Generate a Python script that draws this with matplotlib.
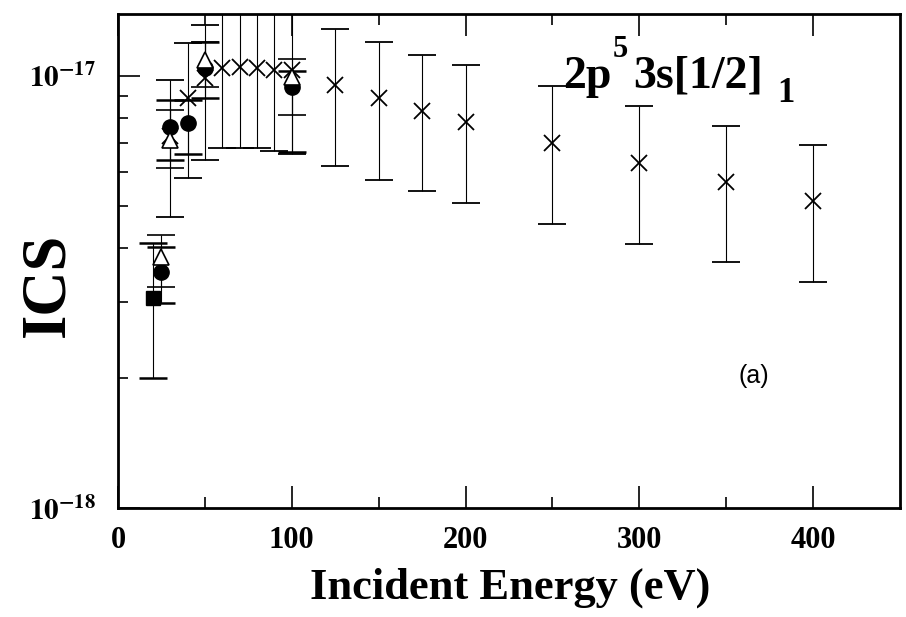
import matplotlib
matplotlib.use("Agg")
import matplotlib.pyplot as plt
from matplotlib.ticker import FixedLocator, NullFormatter

plt.rcParams['mathtext.fontset'] = 'stix'
plt.rcParams['font.family'] = ['Liberation Serif', 'DejaVu Serif']

# present measurement (crosses), integral cross sections in cm^2
energy_x = [30, 40, 50, 60, 70, 80, 90, 100, 125, 150, 175, 200, 250, 300, 350, 400]
ics_x = [7.26e-18, 8.9e-18, 9.9e-18, 1.04e-17, 1.05e-17, 1.04e-17, 1.03e-17, 1.03e-17,
         9.5e-18, 8.9e-18, 8.3e-18, 7.83e-18, 7.0e-18, 6.29e-18, 5.68e-18, 5.14e-18]
err_lo_x = [2.54e-18, 3.1e-18, 3.5e-18, 3.6e-18, 3.7e-18, 3.6e-18, 3.6e-18, 3.7e-18,
            3.3e-18, 3.15e-18, 2.9e-18, 2.75e-18, 2.46e-18, 2.21e-18, 1.97e-18, 1.8e-18]
err_hi_x = [2.54e-18, 3.0e-18, 3.2e-18, 3.6e-18, 3.7e-18, 3.6e-18, 3.6e-18, 3.6e-18,
            3.3e-18, 3.1e-18, 2.9e-18, 2.77e-18, 2.48e-18, 2.23e-18, 1.98e-18, 1.78e-18]

# low-energy point (filled square)
energy_sq = [20]
ics_sq = [3.06e-18]
err_lo_sq = [1.06e-18]
err_hi_sq = [1.04e-18]

# filled circles
energy_c = [25, 30, 40, 50, 100]
ics_c = [3.52e-18, 7.62e-18, 7.78e-18, 1.04e-17, 9.4e-18]
err_lo_c = [0.54e-18, 1.24e-18, 1.2e-18, 1.5e-18, 2.75e-18]
err_hi_c = [0.49e-18, 1.18e-18, 1.0e-18, 1.6e-18, 0.86e-18]

# open triangles
energy_t = [25, 30, 50, 100]
ics_t = [3.81e-18, 7.11e-18, 1.09e-17, 9.95e-18]
err_lo_t = [0.56e-18, 0.99e-18, 1.5e-18, 1.85e-18]
err_hi_t = [0.47e-18, 1.24e-18, 1.1e-18, 1.0e-18]

x_major = [0, 100, 200, 300, 400]
x_minor = [50, 150, 250, 350]
x_labels = ['0', '100', '200', '300', '400']
y_major = [1e-18, 1e-17]
y_minor = [2e-18, 3e-18, 4e-18, 5e-18, 6e-18, 7e-18, 8e-18, 9e-18]
y_labels = [r'$\mathbf{10^{-18}}$', r'$\mathbf{10^{-17}}$']

W, H = 906, 617
fig = plt.figure(figsize=(W / 100, H / 100), dpi=100)
ax = fig.add_axes([118 / W, 1 - 508 / H, (900 - 118) / W, (508 - 14) / H])
ax.set_yscale('log')
ax.set_xlim(0, 450)
ax.set_ylim(1e-18, 1.39e-17)

bar_kw = dict(color='k', ecolor='k', elinewidth=0.8, capsize=10, capthick=1.8)
ax.errorbar(energy_x, ics_x, yerr=[err_lo_x, err_hi_x], fmt='x', ms=12, mew=1.3,
            zorder=3, **bar_kw)
ax.errorbar(energy_sq, ics_sq, yerr=[err_lo_sq, err_hi_sq], fmt='s', ms=10,
            mfc='k', mec='k', zorder=4, **bar_kw)
ax.errorbar(energy_c, ics_c, yerr=[err_lo_c, err_hi_c], fmt='o', ms=11,
            mfc='k', mec='k', zorder=4, **bar_kw)
ax.errorbar(energy_t, ics_t, yerr=[err_lo_t, err_hi_t], fmt='^', ms=11,
            mfc='white', mec='k', mew=1.2, zorder=5, **bar_kw)

# axes frame and ticks
for s in ax.spines.values():
    s.set_linewidth(2.0)
ax.xaxis.set_major_locator(FixedLocator(x_major))
ax.xaxis.set_minor_locator(FixedLocator(x_minor))
ax.set_xticklabels(x_labels, fontsize=22, fontweight='bold')
ax.yaxis.set_major_locator(FixedLocator(y_major))
ax.yaxis.set_minor_locator(FixedLocator(y_minor))
ax.yaxis.set_minor_formatter(NullFormatter())
ax.set_yticklabels(y_labels, fontsize=21)
ax.tick_params(axis='x', which='major', direction='in', length=16, width=1.2,
               top=True, pad=13)
ax.tick_params(axis='x', which='minor', direction='in', length=8, width=1.2, top=True)
ax.tick_params(axis='y', which='major', direction='in', length=16, width=1.2,
               right=False, pad=16)
ax.tick_params(axis='y', which='minor', direction='in', length=7, width=1.2, right=False)

fig.text(510 / W, 1 - 588 / H, 'Incident Energy (eV)', fontsize=32,
         fontweight='bold', ha='center', va='center')
fig.text(48 / W, 1 - 285 / H, 'ICS', fontsize=45, fontweight='bold',
         rotation=90, ha='center', va='center')
fig.text(754 / W, 1 - 376 / H, '(a)', fontsize=18, family='Liberation Sans',
         ha='center', va='center')

# state label: 2p^5 3s[1/2]_1, built piece by piece
fig.canvas.draw()
renderer = fig.canvas.get_renderer()
base_y = 1 - 88 / H
x_cur = 563 / W
pieces = [('2p', 33, 0, 1), ('5', 22, 31, 6), ('3s[1/2]', 33, 0, 14), ('1', 25, -14, 0)]
for text, size, dy, gap in pieces:
    t = fig.text(x_cur, base_y + dy / H, text, fontsize=size, fontweight='bold',
                 ha='left', va='baseline')
    bb = t.get_window_extent(renderer)
    x_cur = (bb.x1 + gap) / W

fig.savefig('out.png', dpi=100)
